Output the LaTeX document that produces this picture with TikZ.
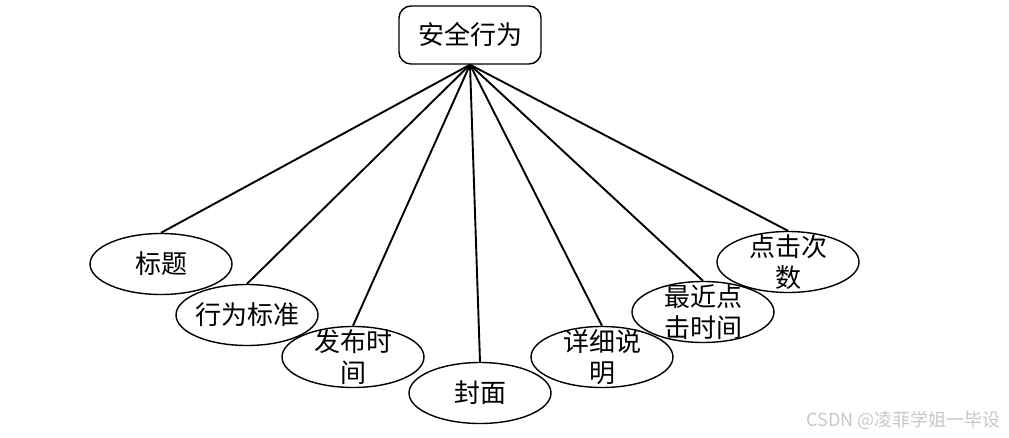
\documentclass[tikz,border=0pt]{standalone}
\usepackage{fontspec}
\newfontfamily\cjk{Noto Sans CJK SC}
\usetikzlibrary{shapes.geometric}
\begin{document}
\begin{tikzpicture}[x=1pt,y=-1pt,
  topbox/.style={draw=black, line width=1.4pt, rounded corners=12pt, minimum width=142pt, minimum height=58pt, inner sep=0pt, fill=white},
  ell/.style={draw=black, line width=1.4pt, ellipse, minimum width=142pt, minimum height=61pt, inner sep=0pt, fill=white},
  lbl/.style={font=\cjk\fontsize{26}{31}\selectfont, align=center, inner sep=0pt},
  conn/.style={draw=black, line width=1.9pt}]
\useasboundingbox (0,0) rectangle (1009,437);
\node[topbox] (root) at (470,35) {};
\node[lbl] at (root) {安全行为};
\node[ell] (a) at (161,264) {};
\node[ell] (b) at (247,315) {};
\node[ell] (c) at (353,357) {};
\node[ell] (d) at (480,393) {};
\node[ell] (e) at (602,357) {};
\node[ell] (f) at (703,312) {};
\node[ell] (g) at (788,262) {};
\foreach \n in {a,b,c,d,e,f,g} {\draw[conn] (root.south) -- (\n.north);}
\node[lbl] at (a) {标题};
\node[lbl] at (b) {行为标准};
\node[lbl] at (c) {发布时\\间};
\node[lbl] at (d) {封面};
\node[lbl] at (e) {详细说\\明};
\node[lbl] at (f) {最近点\\击时间};
\node[lbl] at (g) {点击次\\数};
\node[font=\cjk\fontsize{18}{20}\selectfont, text=black!22, anchor=east, inner sep=0pt] (wm) at (1001,420) {CSDN @凌菲学姐一毕设};
\end{tikzpicture}
\end{document}
